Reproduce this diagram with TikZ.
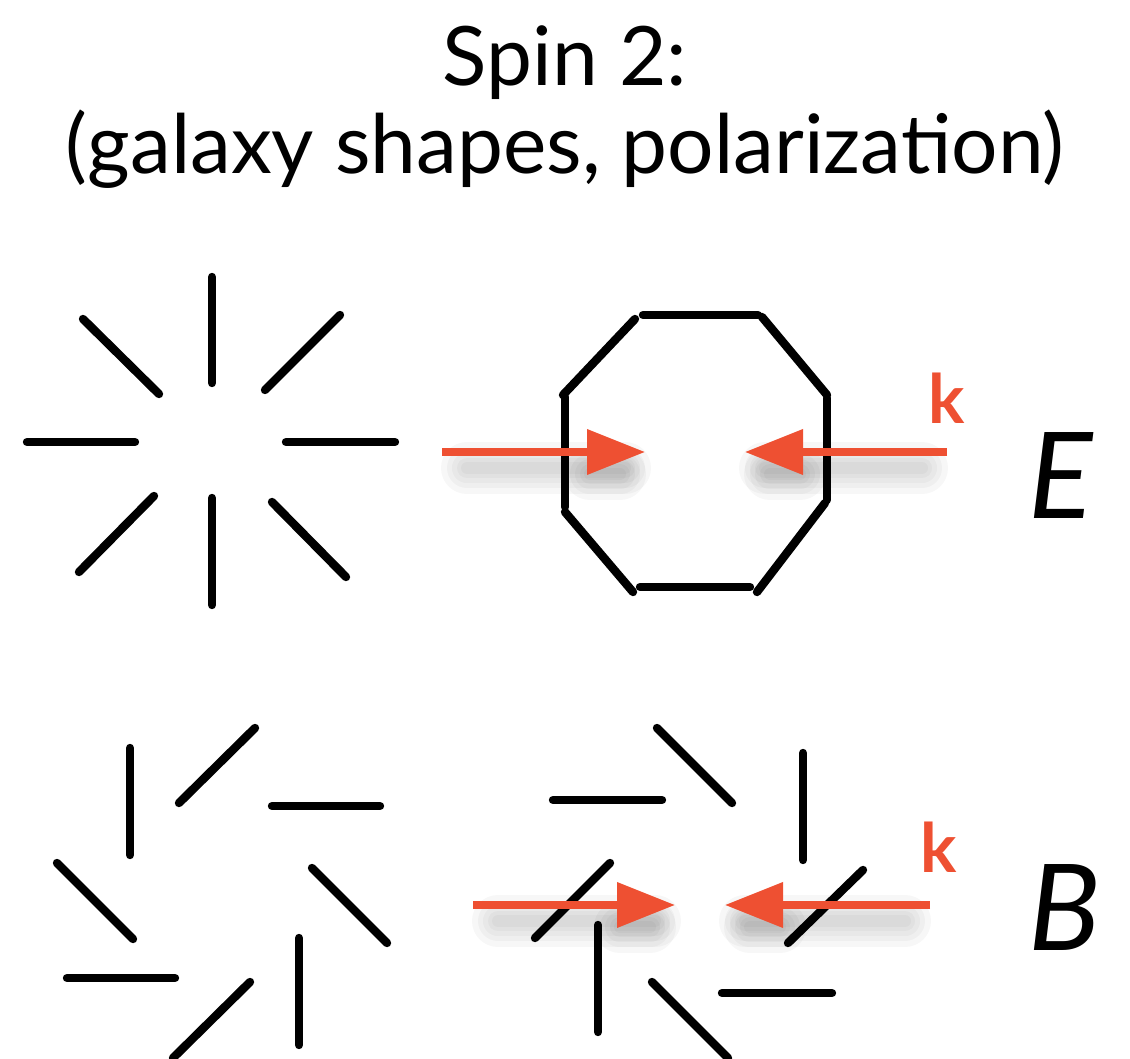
\documentclass[tikz,border=0pt]{standalone}
\usepackage{fontspec}
\setmainfont{Lato}
\usetikzlibrary{arrows.meta, calc}
\definecolor{kred}{RGB}{238,80,50}

\begin{document}
\begin{tikzpicture}[
    x=0.5pt, y=-0.5pt,
    stick/.style={line width=4.2pt, line cap=round},
    kvec/.style={-{Triangle[length=29pt, width=22pt]}, line width=3.6pt, kred},
    kshade/.style={line width=#1, line cap=round, black, opacity=0.03},
    title/.style={font=\fontsize{41}{41}\selectfont, anchor=base, inner sep=0pt},
    mode/.style={font=\itshape\fontsize{60}{60}\selectfont, anchor=base west, inner sep=0pt},
    klabel/.style={font=\bfseries\fontsize{34}{34}\selectfont, text=kred, anchor=base west, inner sep=0pt}
  ]
    \useasboundingbox (0,0) rectangle (1130,1059);

    % Title
    \node[title] (spin) at (565,86) {Spin 2:};
    \node[title] (sub) at (565,174) {(galaxy shapes, polarization)};

    % E pattern, radial
    \draw[stick] (212,277) -- (212,383);
    \draw[stick] (212,498) -- (212,605);
    \draw[stick] (27,442) -- (135,442);
    \draw[stick] (286,442) -- (395,442);
    \draw[stick] (83,319) -- (159,394);
    \draw[stick] (340,315) -- (265,390);
    \draw[stick] (154,496) -- (79,572);
    \draw[stick] (272,502) -- (346,577);

    % E pattern, ring
    \draw[stick] (643,315) -- (758,315);
    \draw[stick] (635,319) -- (563,395);
    \draw[stick] (565,397) -- (565,507);
    \draw[stick] (565,512) -- (633,592);
    \draw[stick] (640,587) -- (750,587);
    \draw[stick] (757,592) -- (825,503);
    \draw[stick] (827,398) -- (827,500);
    \draw[stick] (762,317) -- (827,395);

    % B pattern, left
    \draw[stick] (130,748) -- (130,855);
    \draw[stick] (255,728) -- (179,803);
    \draw[stick] (272,806) -- (380,806);
    \draw[stick] (57,863) -- (133,939);
    \draw[stick] (312,868) -- (387,943);
    \draw[stick] (67,978) -- (175,978);
    \draw[stick] (250,982) -- (173,1058);
    \draw[stick] (299,938) -- (299,1045);

    % B pattern, right
    \draw[stick] (657,728) -- (732,803);
    \draw[stick] (553,800) -- (662,800);
    \draw[stick] (803,753) -- (803,860);
    \draw[stick] (610,863) -- (535,938);
    \draw[stick] (863,870) -- (788,943);
    \draw[stick] (598,925) -- (598,1032);
    \draw[stick] (722,993) -- (832,993);
    \draw[stick] (652,982) -- (728,1058);

    % wave vectors
    \coordinate (eLa) at (442,452);
    \coordinate (eLb) at (645,452);
    \coordinate (eRa) at (947,452);
    \coordinate (eRb) at (745,452);
    \coordinate (bLa) at (473,905);
    \coordinate (bLb) at (675,905);
    \coordinate (bRa) at (930,905);
    \coordinate (bRb) at (725,905);

    % soft shadows
    \foreach \w in {26pt,20pt,15pt,10pt,6pt} {
      \draw[kshade=\w] ($(eLa)+(25,16)$) -- ($(eLb)+(-20,16)$);
      \draw[kshade=\w] ($(eLb)+(-55,22)$) -- ($(eLb)+(-25,22)$);
      \draw[kshade=\w] ($(eRa)+(-25,16)$) -- ($(eRb)+(20,16)$);
      \draw[kshade=\w] ($(eRb)+(55,22)$) -- ($(eRb)+(25,22)$);
      \draw[kshade=\w] ($(bLa)+(25,16)$) -- ($(bLb)+(-20,16)$);
      \draw[kshade=\w] ($(bLb)+(-55,22)$) -- ($(bLb)+(-25,22)$);
      \draw[kshade=\w] ($(bRa)+(-25,16)$) -- ($(bRb)+(20,16)$);
      \draw[kshade=\w] ($(bRb)+(55,22)$) -- ($(bRb)+(25,22)$);
    }

    \draw[kvec] (eLa) -- (eLb);
    \draw[kvec] (eRa) -- (eRb);
    \draw[kvec] (bLa) -- (bLb);
    \draw[kvec] (bRa) -- (bRb);

    % Labels
    \node[klabel] (kE) at (928,423) {k};
    \node[klabel] (kB) at (920,872) {k};
    \node[mode] (modeE) at (1028,518) {E};
    \node[mode] (modeB) at (1028,950) {B};
\end{tikzpicture}
\end{document}
